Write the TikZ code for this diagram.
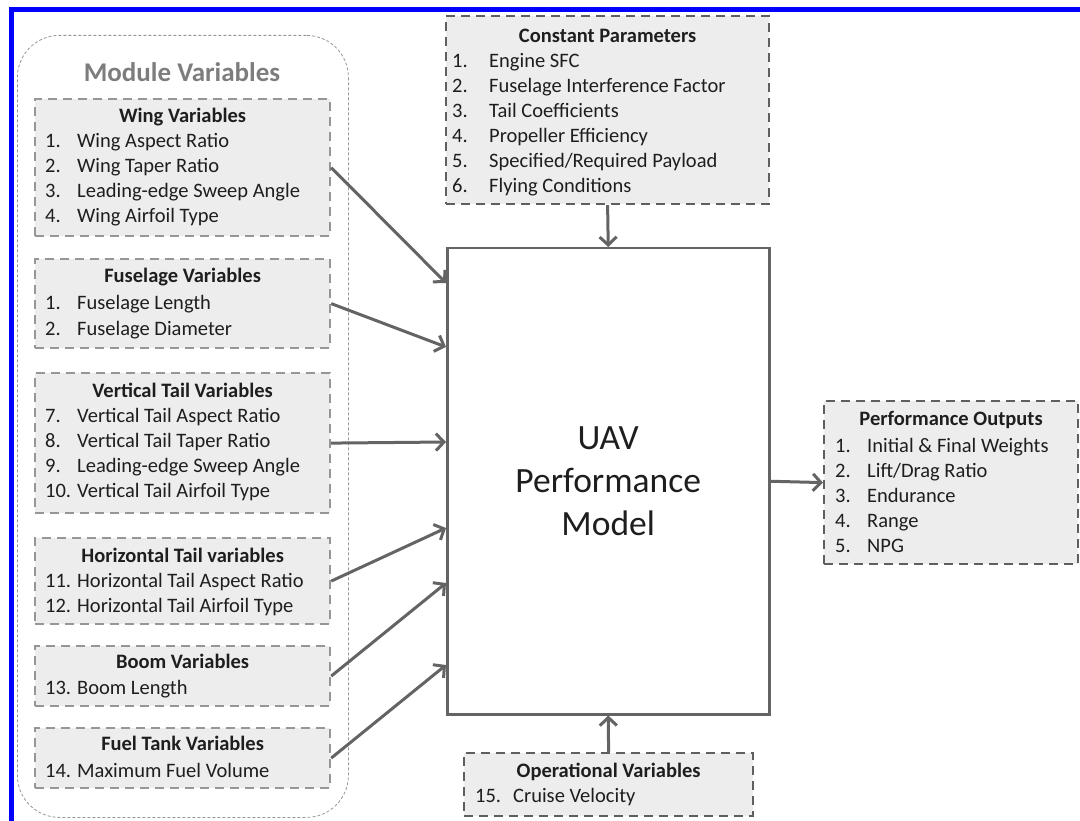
\documentclass[tikz,border=0pt]{standalone}
\usepackage{fontspec}
\setmainfont{Carlito}
\usetikzlibrary{arrows.meta,positioning}

\definecolor{boxfill}{RGB}{237,237,237}
\definecolor{boxline}{RGB}{150,150,150}
\definecolor{titlegray}{RGB}{125,125,125}
\definecolor{darkline}{RGB}{95,95,95}
\definecolor{arrowgray}{RGB}{100,100,100}
\definecolor{txt}{RGB}{30,30,30}

\tikzset{
  varbox/.style={draw=boxline, fill=boxfill, line width=2.2pt, dash pattern=on 9pt off 6pt,
    anchor=north west, inner sep=0pt},
  outbox/.style={varbox, draw=darkline},
  modbox/.style={draw=boxline, line width=0.8pt, dash pattern=on 3pt off 2pt, rounded corners=42pt,
    anchor=north west, inner sep=0pt},
  mainbox/.style={draw=arrowgray, line width=2.5pt, fill=white, anchor=north west, inner sep=0pt},
  boxtitle/.style={anchor=base, font=\fontsize{20.5}{24}\selectfont\bfseries, text=txt, inner sep=0pt},
  itemtxt/.style={anchor=base west, font=\fontsize{20.5}{24}\selectfont, text=txt, inner sep=0pt},
  feed/.style={draw=arrowgray, line width=3pt, -{Straight Barb[length=8pt,width=17pt]}},
}

\begin{document}
\begin{tikzpicture}[x=1pt,y=-1pt]
\useasboundingbox (0,0) rectangle (1080,821);
\draw[blue, line width=5pt] (11.5,821) -- (11.5,9.5) -- (1080,9.5);

% module variables
\node[modbox, minimum width=331pt, minimum height=782pt] (module) at (17,35) {};
\node[anchor=base, font=\fontsize{27}{32}\selectfont\bfseries, text=titlegray, inner sep=0pt] (module-t) at (182,82) {Module Variables};

\node[varbox, minimum width=295pt, minimum height=137pt] (wing) at (34,98) {};
\node[boxtitle] (wing-t) at (wing.north |- 0,123) {Wing Variables};
\foreach \t [count=\i] in {Wing Aspect Ratio, Wing Taper Ratio, Leading-edge Sweep Angle, Wing Airfoil Type} {
  \node[itemtxt] (wing-n\i) at (45,123+25*\i) {\i.};
  \node[itemtxt] (wing-i\i) at (77,123+25*\i) {\t};
}

\node[varbox, minimum width=295pt, minimum height=89pt] (fuse) at (34,258) {};
\node[boxtitle] (fuse-t) at (fuse.north |- 0,283) {Fuselage Variables};
\foreach \t [count=\i] in {Fuselage Length, Fuselage Diameter} {
  \node[itemtxt] (fuse-n\i) at (45,285+25*\i) {\i.};
  \node[itemtxt] (fuse-i\i) at (77,285+25*\i) {\t};
}

\node[varbox, minimum width=295pt, minimum height=140pt] (vtail) at (34,372) {};
\node[boxtitle] (vtail-t) at (vtail.north |- 0,397) {Vertical Tail Variables};
\foreach \t [count=\i from 7] in {Vertical Tail Aspect Ratio, Vertical Tail Taper Ratio, Leading-edge Sweep Angle, Vertical Tail Airfoil Type} {
  \node[itemtxt] (vtail-n\i) at (45,397+25*\i-150) {\i.};
  \node[itemtxt] (vtail-i\i) at (77,397+25*\i-150) {\t};
}

\node[varbox, minimum width=295pt, minimum height=86pt] (htail) at (34,537) {};
\node[boxtitle] (htail-t) at (htail.north |- 0,562) {Horizontal Tail variables};
\foreach \t [count=\i from 11] in {Horizontal Tail Aspect Ratio, Horizontal Tail Airfoil Type} {
  \node[itemtxt] (htail-n\i) at (45,562+25*\i-250) {\i.};
  \node[itemtxt] (htail-i\i) at (77,562+25*\i-250) {\t};
}

\node[varbox, minimum width=295pt, minimum height=60pt] (boom) at (34,645) {};
\node[boxtitle] (boom-t) at (boom.north |- 0,668) {Boom Variables};
\node[itemtxt] (boom-n13) at (45,694) {13.};
\node[itemtxt] (boom-i13) at (77,694) {Boom Length};

\node[varbox, minimum width=295pt, minimum height=60pt] (fuel) at (34,727) {};
\node[boxtitle] (fuel-t) at (fuel.north |- 0,750) {Fuel Tank Variables};
\node[itemtxt] (fuel-n14) at (45,777) {14.};
\node[itemtxt] (fuel-i14) at (77,777) {Maximum Fuel Volume};

% constant parameters
\node[outbox, minimum width=323pt, minimum height=188pt] (const) at (445,15) {};
\node[boxtitle] (const-t) at (const.north |- 0,43) {Constant Parameters};
\foreach \t [count=\i] in {Engine SFC, Fuselage Interference Factor, Tail Coefficients, Propeller Efficiency, {Specified/Required Payload}, Flying Conditions} {
  \node[itemtxt] (const-n\i) at (452,43+25*\i) {\i.};
  \node[itemtxt] (const-i\i) at (489,43+25*\i) {\t};
}

% model
\node[mainbox, minimum width=322pt, minimum height=466pt] (model) at (446,247) {};
\node[font=\fontsize{35.5}{43}\selectfont, align=center, text=txt] (model-t) at (model.center) {UAV\\Performance\\Model};

% operational variables
\node[outbox, minimum width=289pt, minimum height=63pt] (oper) at (463,752) {};
\node[boxtitle] (oper-t) at (oper.north |- 0,777) {Operational Variables};
\node[itemtxt] (oper-n15) at (475,802) {15.};
\node[itemtxt] (oper-i15) at (513,802) {Cruise Velocity};

% performance outputs
\node[outbox, minimum width=254pt, minimum height=163pt] (perf) at (823,400) {};
\node[boxtitle] (perf-t) at (perf.north |- 0,425) {Performance Outputs};
\foreach \t [count=\i] in {Initial \& Final Weights, {Lift/Drag Ratio}, Endurance, Range, NPG} {
  \node[itemtxt] (perf-n\i) at (835,427+25*\i) {\i.};
  \node[itemtxt] (perf-i\i) at (867,427+25*\i) {\t};
}

% arrows
\draw[feed] (wing.east) -- (model.west |- 0,283);
\draw[feed] (fuse.east) -- (model.west |- 0,347);
\draw[feed] (vtail.east) -- (model.west |- 0,442);
\draw[feed] (htail.east) -- (model.west |- 0,528);
\draw[feed] (boom.east) -- (model.west |- 0,583);
\draw[feed] (fuel.east) -- (model.west |- 0,665);
\draw[feed] (const.south) -- (model.north);
\draw[feed] (oper.north) -- (model.south);
\draw[feed] (model.east) -- (perf.west);
\end{tikzpicture}
\end{document}
